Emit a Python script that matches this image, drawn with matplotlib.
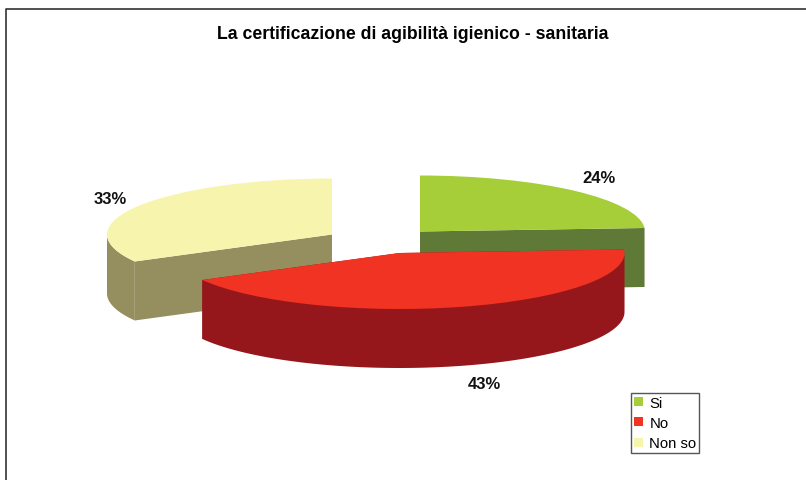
import numpy as np
import matplotlib
matplotlib.use("Agg")
import matplotlib.pyplot as plt
from matplotlib.patches import Wedge, Polygon, Rectangle
from matplotlib.transforms import Affine2D

# Data
categories = ["Si", "No", "Non so"]
values = [24, 43, 33]
labels = ["24%", "43%", "33%"]
title = "La certificazione di agibilità igienico - sanitaria"

# Style / layout
top_colors = ["#A6CE39", "#F03322", "#F7F4AD"]
side_colors = ["#5F7A36", "#96171B", "#958F5F"]
centers = [(420, 232.5), (399.5, 254), (332, 235.5)]
label_pos = [(599, 179), (484, 385), (110, 200)]
draw_order = [2, 0, 1]
RX, RY, DEPTH = 225, 56, 59

plt.rcParams["font.family"] = ["Liberation Sans", "DejaVu Sans"]
fig = plt.figure(figsize=(8.06, 4.81), dpi=100)
ax = fig.add_axes([0, 0, 1, 1])
ax.set_xlim(0, 806)
ax.set_ylim(481, 0)
ax.axis("off")


def pt(c, a, dy=0):
    """Point on the projected rim; a = clockwise angle from 12 o'clock, degrees."""
    r = np.radians(a)
    return c[0] + RX * np.sin(r), c[1] - RY * np.cos(r) + dy


edges = np.concatenate([[0], np.cumsum(values)]) * 3.6
for z, i in enumerate(draw_order, start=2):
    c = centers[i]
    a0, a1 = edges[i], edges[i + 1]
    # cut faces
    for a in (a0, a1):
        x, y = pt(c, a)
        ax.add_patch(Polygon([c, (x, y), (x, y + DEPTH), (c[0], c[1] + DEPTH)],
                             closed=True, fc=side_colors[i], ec="none", zorder=z))
    # outer rim, only where it faces the viewer (90..270 clockwise from top)
    lo, hi = max(a0, 90), min(a1, 270)
    if hi > lo:
        aa = np.linspace(lo, hi, 120)
        top = [pt(c, a) for a in aa]
        bot = [pt(c, a, DEPTH) for a in aa[::-1]]
        ax.add_patch(Polygon(top + bot, closed=True, fc=side_colors[i], ec="none", zorder=z))
    # top surface: a unit wedge squashed into the projected ellipse
    tr = Affine2D().scale(RX, -RY).translate(*c) + ax.transData
    ax.add_patch(Wedge((0, 0), 1, 90 - a1, 90 - a0, fc=top_colors[i], ec="none",
                       transform=tr, zorder=z))
    ax.text(*label_pos[i], labels[i], ha="center", va="center",
            fontsize=12, fontweight="bold", color="#111111", zorder=10)

ax.text(412.5, 34.5, title, ha="center", va="center", fontsize=12.7,
        fontweight="bold", color="black")

# Chart frame
ax.plot([6, 6, 806], [481, 10, 10], color="#333333", lw=1.2, zorder=1)

# Legend
handles = [Rectangle((0, 0), 1, 1, fc=col, ec="none") for col in top_colors]
leg = ax.legend(handles, categories, loc="upper left",
                bbox_to_anchor=(631 / 806, 1 - 394 / 481), fontsize=10.7,
                frameon=True, fancybox=False, edgecolor="#555555", framealpha=1,
                borderpad=0.19, handlelength=0.62, handleheight=0.55,
                handletextpad=0.42, labelspacing=0.42, borderaxespad=0)
leg.get_frame().set_linewidth(1.0)

fig.savefig("out.png", dpi=100)
